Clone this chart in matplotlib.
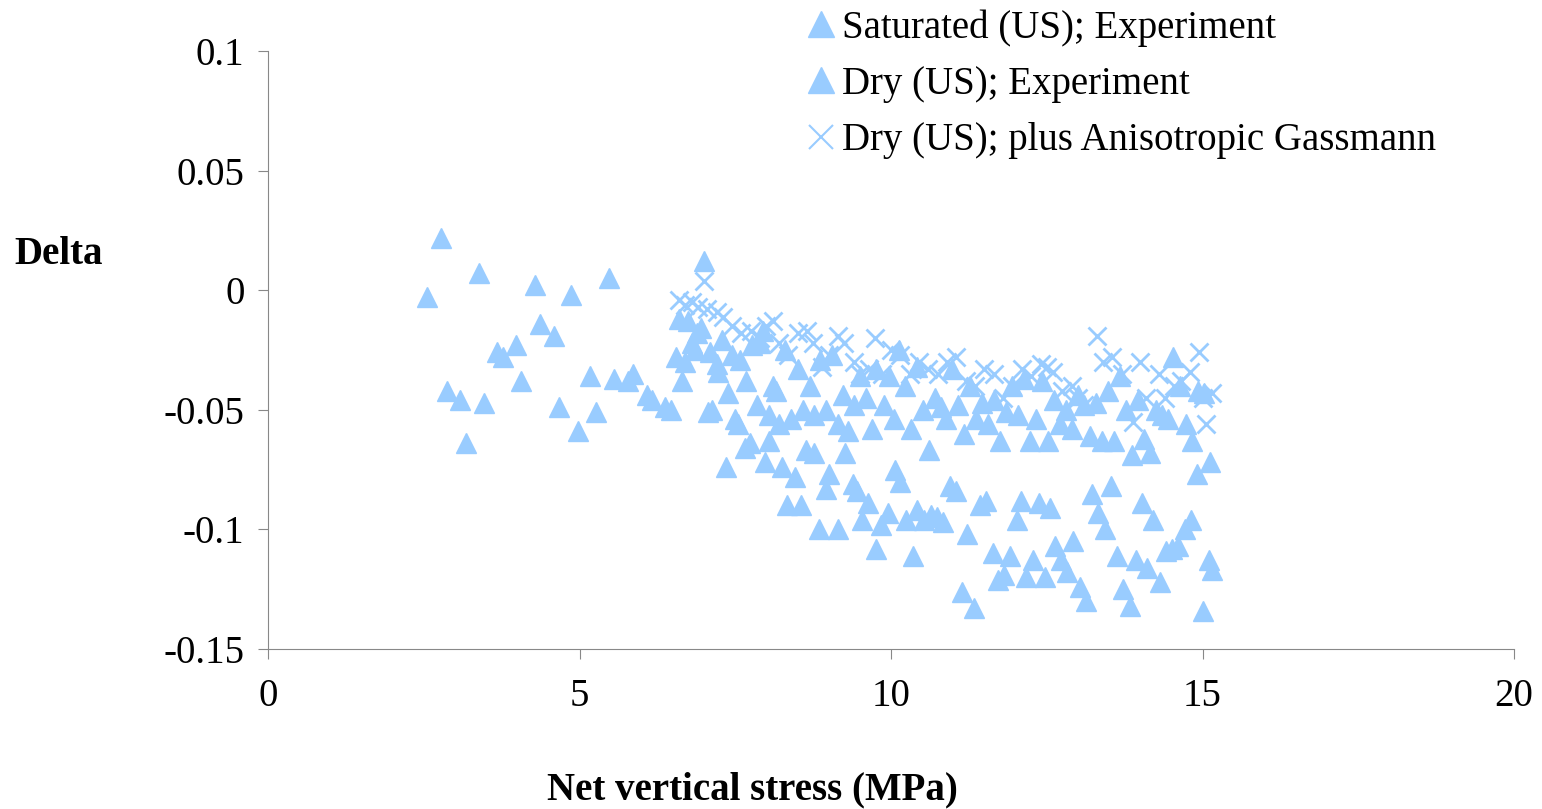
import matplotlib
matplotlib.use("Agg")
from matplotlib import pyplot as plt

# Saturated (US); Experiment
sat_x = [2.55, 2.78, 2.87, 3.08, 3.18, 3.39, 3.47, 3.68, 3.77, 3.98, 4.06, 4.29, 4.37, 4.59,
         4.67, 4.86, 4.98, 5.17, 5.26, 5.47, 5.55, 5.78, 5.86, 6.08, 6.16, 6.37, 6.47,
         6.55, 6.65, 6.74, 6.8, 6.89, 7.0, 7.06, 7.13, 7.22, 7.29, 7.38, 7.5, 7.58, 7.67,
         7.77, 7.85, 7.95, 8.04, 8.11, 8.2, 8.3, 8.39, 8.51, 8.59, 8.7, 8.76, 8.86, 8.96,
         9.05, 9.15, 9.23, 9.31, 9.41, 9.5, 9.6, 9.69, 9.76, 9.89, 9.97, 10.05, 10.13,
         10.22, 10.32, 10.42, 10.51, 10.61, 10.71, 10.8, 10.88, 10.98, 11.08, 11.17, 11.27,
         11.36, 11.46, 11.56, 11.65, 11.75, 11.85, 11.94, 12.04, 12.13, 12.23, 12.33, 12.42,
         12.52, 12.62, 12.71, 12.81, 12.9, 13.0, 13.1, 13.19, 13.29, 13.39, 13.48, 13.58,
         13.68, 13.77, 13.87, 13.96, 14.06, 14.16, 14.25, 14.35, 14.45, 14.53, 14.64, 14.74,
         14.83, 14.93, 15.02, 15.12]
sat_y = [-0.003, 0.022, -0.042, -0.046, -0.064, 0.007, -0.047, -0.026, -0.028, -0.023, -0.038,
         0.002, -0.014, -0.019, -0.049, -0.002, -0.059, -0.036, -0.051, 0.005, -0.037, -0.038,
         -0.035, -0.044, -0.046, -0.049, -0.05,
         -0.028, -0.038, -0.013, -0.022, -0.018, 0.012, -0.051, -0.05, -0.034, -0.021, -0.043,
         -0.054, -0.029, -0.038, -0.023, -0.048, -0.017, -0.052, -0.04, -0.056, -0.025, -0.054,
         -0.033, -0.05, -0.04, -0.052, -0.029, -0.05, -0.027, -0.056, -0.044, -0.059, -0.048,
         -0.036, -0.045, -0.058, -0.033, -0.048, -0.036, -0.054, -0.025, -0.04, -0.058, -0.032,
         -0.05, -0.067, -0.045, -0.049, -0.054, -0.033, -0.048, -0.06, -0.04, -0.054, -0.047,
         -0.056, -0.046, -0.063, -0.051, -0.04, -0.052, -0.037, -0.063, -0.054, -0.038, -0.063,
         -0.046, -0.056, -0.05, -0.058, -0.044, -0.048, -0.061, -0.047, -0.063, -0.042, -0.063,
         -0.036, -0.05, -0.069, -0.046, -0.062, -0.068, -0.05, -0.052, -0.054, -0.028, -0.04,
         -0.056, -0.063, -0.042, -0.043, -0.072]

# Dry (US); Experiment
dry_x = [6.6, 6.7, 6.85, 6.95, 7.1, 7.2, 7.35, 7.45, 7.55, 7.66, 7.74, 7.9, 7.98, 8.04, 8.15,
         8.25, 8.33, 8.46, 8.56, 8.64, 8.77, 8.84, 8.96, 9.0, 9.15, 9.26, 9.39, 9.45, 9.53,
         9.63, 9.76, 9.84, 9.95, 10.06, 10.14, 10.24, 10.35, 10.42, 10.53, 10.64, 10.74,
         10.83, 10.95, 11.04, 11.14, 11.22, 11.33, 11.43, 11.52, 11.64, 11.72, 11.81, 11.91,
         12.02, 12.09, 12.17, 12.28, 12.38, 12.47, 12.55, 12.63, 12.73, 12.82, 12.92, 13.03,
         13.13, 13.23, 13.32, 13.43, 13.53, 13.63, 13.72, 13.84, 13.93, 14.03, 14.11, 14.21,
         14.32, 14.41, 14.51, 14.61, 14.72, 14.82, 14.91, 15.01, 15.1, 15.15]
dry_y = [-0.012, -0.03, -0.025, -0.016, -0.026, -0.031, -0.074, -0.027, -0.056, -0.066, -0.064,
         -0.022, -0.072, -0.063, -0.042, -0.074, -0.09, -0.078, -0.09, -0.067, -0.068, -0.1,
         -0.083, -0.077, -0.1, -0.068, -0.081, -0.084, -0.096, -0.089, -0.108, -0.098, -0.093,
         -0.075, -0.08, -0.096, -0.111, -0.092, -0.096, -0.094, -0.095, -0.097, -0.082, -0.084,
         -0.126, -0.102, -0.133, -0.09, -0.088, -0.11, -0.121, -0.119, -0.111, -0.096, -0.088,
         -0.12, -0.113, -0.089, -0.12, -0.091, -0.107, -0.113, -0.118, -0.105, -0.124, -0.13,
         -0.085, -0.093, -0.1, -0.082, -0.111, -0.125, -0.132, -0.113, -0.089, -0.116, -0.096,
         -0.122, -0.109, -0.108, -0.107, -0.1, -0.096, -0.077, -0.134, -0.113, -0.117]

# Dry (US); plus Anisotropic Gassmann
gas_x = [6.6, 6.7, 6.8, 6.9, 7.0, 7.05, 7.2, 7.3, 7.45, 7.6, 7.75, 7.9, 8.0, 8.1, 8.2, 8.35,
         8.5, 8.65, 8.75, 8.9, 9.0, 9.15, 9.25, 9.4, 9.5, 9.65, 9.75, 9.85, 10.0, 10.15, 10.3,
         10.45, 10.6, 10.75, 10.9, 11.05, 11.2, 11.35, 11.5, 11.65, 11.8, 11.95, 12.1, 12.25,
         12.4, 12.5, 12.6, 12.75, 12.9, 13.0, 13.1, 13.3, 13.4, 13.55, 13.7, 13.88, 14.0, 14.1,
         14.3, 14.4, 14.55, 14.65, 14.8, 14.94, 15.0, 15.05, 15.15]
gas_y = [-0.004, -0.006, -0.005, -0.007, 0.004, -0.008, -0.009, -0.011, -0.015, -0.018, -0.017,
         -0.02, -0.015, -0.013, -0.022, -0.027, -0.018, -0.017, -0.022, -0.032, -0.027, -0.019,
         -0.022, -0.03, -0.035, -0.033, -0.02, -0.035, -0.025, -0.027, -0.035, -0.03, -0.033,
         -0.035, -0.03, -0.028, -0.038, -0.04, -0.033, -0.035, -0.045, -0.04, -0.033, -0.036,
         -0.031, -0.032, -0.034, -0.042, -0.04, -0.045, -0.048, -0.019, -0.03, -0.028, -0.035,
         -0.055, -0.03, -0.045, -0.035, -0.045, -0.04, -0.038, -0.034, -0.026, -0.045, -0.056,
         -0.043]

plt.rcParams['font.family'] = ['Liberation Serif', 'DejaVu Serif']

col = '#99ccff'
fs = 28
fig = plt.figure(figsize=(15.42, 8.09), dpi=100)
ax = fig.add_axes([268 / 1542, 1 - 649 / 809, (1514 - 268) / 1542, (649 - 51) / 809])

ax.plot(sat_x, sat_y, linestyle='none', marker='^', markersize=14, color=col,
        label='Saturated (US); Experiment')
ax.plot(dry_x, dry_y, linestyle='none', marker='^', markersize=14, color=col,
        label='Dry (US); Experiment')
ax.plot(gas_x, gas_y, linestyle='none', marker='x', markersize=13, markeredgewidth=2,
        color=col, label='Dry (US); plus Anisotropic Gassmann')

ax.set_xlim(0, 20)
ax.set_ylim(-0.15, 0.1)
ax.set_xticks([0, 5, 10, 15, 20])
ax.set_yticks([-0.15, -0.1, -0.05, 0, 0.05, 0.1])
ax.set_yticklabels(['-0.15', '-0.1', '-0.05', '0', '0.05', '0.1'])
for s in ['top', 'right']:
    ax.spines[s].set_visible(False)
for s in ['left', 'bottom']:
    ax.spines[s].set_color('#888888')
ax.tick_params(axis='both', labelsize=fs, colors='#888888', labelcolor='black',
               length=7, direction='out')
ax.tick_params(axis='x', pad=14)
ax.tick_params(axis='y', pad=10)

fig.text(14 / 1542, 1 - 254 / 809, 'Delta', fontsize=fs, fontweight='bold', va='center')
fig.text(752 / 1542, 1 - 790 / 809, 'Net vertical stress (MPa)', fontsize=fs,
         fontweight='bold', ha='center', va='center')

leg = fig.legend(loc='upper left', bbox_to_anchor=(786 / 1542, 1.008), frameon=False,
                 fontsize=fs, handletextpad=0.05, handlelength=1.0, labelspacing=0.5,
                 borderaxespad=0, markerscale=1.35)
# thinner cross in the legend, like the original
leg.legend_handles[2].set_markeredgewidth(1.5)

fig.savefig('out.png', dpi=100)
